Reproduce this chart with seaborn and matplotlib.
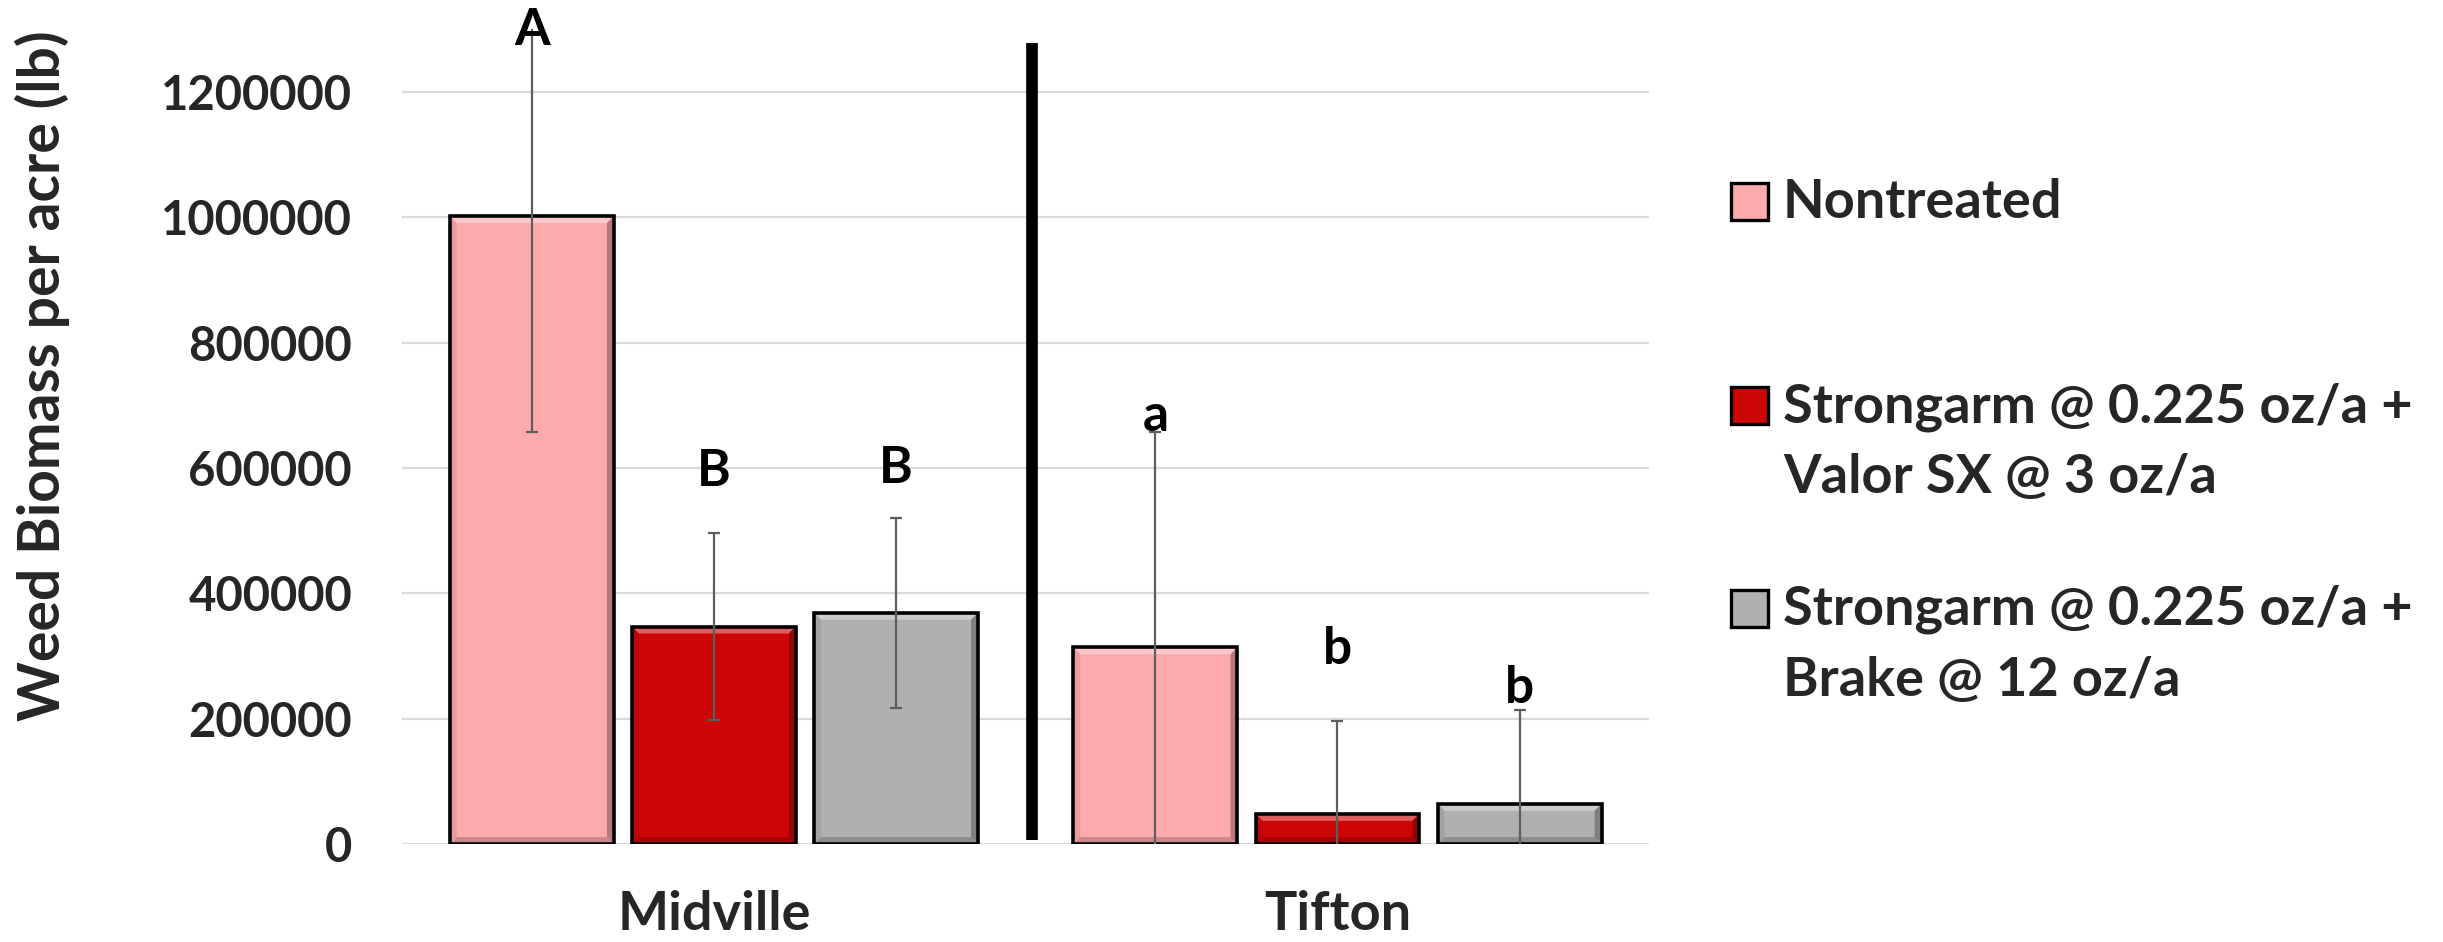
import numpy as np
import pandas as pd
import seaborn as sns
import matplotlib.pyplot as plt
from matplotlib.patches import Rectangle, Polygon
from matplotlib.colors import to_rgb

# ---- data ----
locations = ["Midville", "Tifton"]
treatments = [
    "Nontreated",
    "Strongarm @ 0.225 oz/a +\nValor SX @ 3 oz/a",
    "Strongarm @ 0.225 oz/a +\nBrake @ 12 oz/a",
]
midville_biomass = [1002000, 347000, 369000]
tifton_biomass = [314000, 48000, 64000]
midville_se = [345000, 149000, 152000]
tifton_se = [343000, 148500, 150500]
midville_letters = ["A", "B", "B"]
tifton_letters = ["a", "b", "b"]
# height (lb/acre) at which each significance letter sits
midville_letter_y = [1275000, 571000, 576000]
tifton_letter_y = [659000, 287000, 225000]
y_ticks = [0, 200000, 400000, 600000, 800000, 1000000, 1200000]

colors = ["#FDAAAD", "#CC0505", "#B0B0B0"]

df = pd.DataFrame({
    "location": np.repeat(locations, len(treatments)),
    "treatment": treatments * len(locations),
    "biomass": midville_biomass + tifton_biomass,
    "se": midville_se + tifton_se,
    "letter": midville_letters + tifton_letters,
    "letter_y": midville_letter_y + tifton_letter_y,
})

sns.set_theme(style="white")
FONT = ["Lato", "DejaVu Sans"]
plt.rcParams["font.family"] = FONT
plt.rcParams["font.weight"] = "bold"

fig = plt.figure(figsize=(24.43, 9.42), dpi=100)
ax = fig.add_axes([0.1646, 0.104, 0.5105, 0.8647])

sns.barplot(
    data=df, x="location", y="biomass", hue="treatment",
    order=locations, hue_order=treatments, palette=colors,
    width=0.876, gap=0.1, errorbar=None, legend=False,
    edgecolor="none", linewidth=0, saturation=1, ax=ax, zorder=2,
)

ax.set_xlim(-0.5, 1.5)
ax.set_ylim(0, 1300000)
ax.set_yticks(y_ticks)
ax.set_yticklabels([str(v) for v in y_ticks], fontsize=34, fontweight="bold")
ax.tick_params(axis="y", length=0, pad=36)
ax.tick_params(axis="x", length=0, pad=33, labelsize=39)
for lab in ax.get_xticklabels():
    lab.set_fontweight("bold")
ax.set_xlabel("")
ax.set_ylabel("")
ax.grid(axis="y", color="#D9D9D9", linewidth=1.6, zorder=0)
ax.grid(axis="x", visible=False)
for s in ax.spines.values():
    s.set_visible(False)

# bars sorted left to right: Midville (3 treatments), then Tifton
bars = sorted(ax.patches, key=lambda p: p.get_x())


def mix(c, other, t):
    c = np.array(to_rgb(c))
    return tuple(c * (1 - t) + np.array(other) * t)


bx, by = 0.011, 11000
for bar, col in zip(bars, colors * 2):
    x0, w, h = bar.get_x(), bar.get_width(), bar.get_height()
    x1 = x0 + w
    top = Polygon([(x0, h), (x1, h), (x1 - bx, h - by), (x0 + bx, h - by)],
                  closed=True, facecolor=mix(col, (1, 1, 1), 0.35),
                  edgecolor="none", zorder=2.5)
    right = Polygon([(x1, h), (x1, 0), (x1 - bx, by), (x1 - bx, h - by)],
                    closed=True, facecolor=mix(col, (0, 0, 0), 0.28),
                    edgecolor="none", zorder=2.5)
    bottom = Polygon([(x0, 0), (x1, 0), (x1 - bx, by), (x0 + bx, by)],
                     closed=True, facecolor=mix(col, (0, 0, 0), 0.2),
                     edgecolor="none", zorder=2.5)
    left = Polygon([(x0, 0), (x0, h), (x0 + bx, h - by), (x0 + bx, by)],
                   closed=True, facecolor=mix(col, (0, 0, 0), 0.08),
                   edgecolor="none", zorder=2.5)
    for p in (top, right, bottom, left):
        ax.add_patch(p)
    ax.add_patch(Rectangle((x0, 0), w, h, facecolor="none",
                           edgecolor="black", linewidth=2.6, zorder=3))

centers = [b.get_x() + b.get_width() / 2 for b in bars]
ax.errorbar(centers, df["biomass"], yerr=df["se"], fmt="none",
            ecolor="#5E5E5E", elinewidth=1.6, capsize=4.3, capthick=1.6,
            zorder=4)

for xc, letter, ly in zip(centers, df["letter"], df["letter_y"]):
    ax.text(xc, ly, letter, ha="center", va="baseline", fontsize=37,
            fontweight="bold", color="black", zorder=5, clip_on=False)

# separator between the two locations
ax.axvline(0.51, ymin=0.005, ymax=0.983, color="black", linewidth=8.4,
           solid_capstyle="butt", zorder=4)

fig.text(42 / 2443, 1 - 376 / 942, "Weed Biomass per acre (lb)", rotation=90,
         ha="center", va="center", fontsize=41, fontweight="bold")

# legend: swatch aligned with the first line of each entry
entry_baselines = [218, 422, 625]
line_step = 71
W, H = 2443, 942
for col, label, base in zip(colors, treatments, entry_baselines):
    sw = 37
    fig.add_artist(Rectangle((1731 / W, 1 - (base + 2) / H), sw / W, sw / H,
                             transform=fig.transFigure, facecolor=col,
                             edgecolor="black", linewidth=2.4))
    for i, line in enumerate(label.split("\n")):
        fig.text(1783 / W, 1 - (base + i * line_step) / H, line,
                 ha="left", va="baseline", fontsize=39, fontweight="bold")

fig.savefig("out.png", dpi=100)
